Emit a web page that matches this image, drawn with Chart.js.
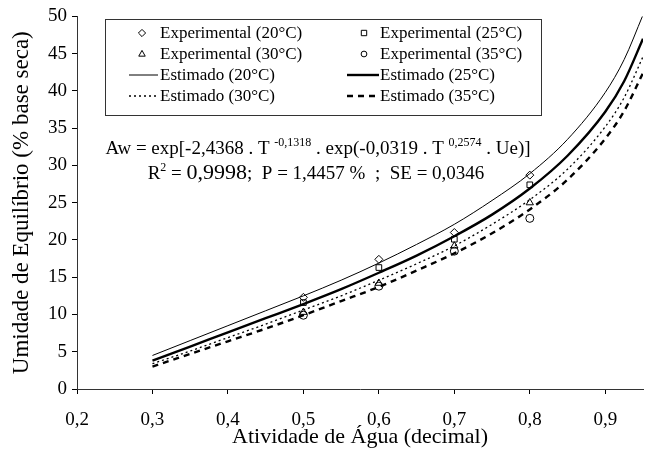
<!DOCTYPE html>
<html>
<head>
<meta charset="utf-8">
<script src="https://cdn.jsdelivr.net/npm/chart.js@4/dist/chart.umd.min.js"></script>
<style>
  html, body { margin: 0; padding: 0; background: #fff; }
  #wrap { width: 660px; height: 459px; position: relative; }
</style>
</head>
<body>
<div id="wrap"><canvas id="c" width="660" height="459"></canvas></div>
<script>
// ---- data ----
const awExp = [0.5, 0.6, 0.7, 0.8];
const exp20 = [12.3, 17.4, 21.0, 28.7];
const exp25 = [11.6, 16.3, 20.1, 27.4];
const exp30 = [10.3, 14.2, 19.2, 25.0];
const exp35 = [9.9, 13.8, 18.5, 22.9];

const awEst = [0.30, 0.35, 0.40, 0.45, 0.50, 0.55, 0.60, 0.65, 0.70, 0.75, 0.80, 0.85, 0.90, 0.925, 0.95];
const est20 = [4.5, 6.5, 8.5, 10.5, 12.5, 14.6, 16.9, 19.4, 22.1, 25.3, 28.9, 33.5, 39.8, 44.2, 50.2];
const est25 = [3.8, 5.7, 7.6, 9.5, 11.4, 13.4, 15.6, 17.9, 20.5, 23.4, 26.9, 31.3, 37.2, 41.3, 47.0];
const est30 = [3.4, 5.1, 6.9, 8.7, 10.6, 12.5, 14.6, 16.8, 19.2, 22.1, 25.4, 29.5, 35.2, 39.1, 44.6];
const est35 = [3.0, 4.7, 6.4, 8.1, 9.9, 11.8, 13.7, 15.9, 18.2, 20.9, 24.1, 28.1, 33.6, 37.3, 42.4];

const xTicks = [0.2, 0.3, 0.4, 0.5, 0.6, 0.7, 0.8, 0.9];
const yTicks = [0, 5, 10, 15, 20, 25, 30, 35, 40, 45, 50];

const labelsExp = ['Experimental (20°C)', 'Experimental (25°C)', 'Experimental (30°C)', 'Experimental (35°C)'];
const labelsEst = ['Estimado (20°C)', 'Estimado (25°C)', 'Estimado (30°C)', 'Estimado (35°C)'];

const FONT = "'Liberation Serif', 'Times New Roman', serif";

function pts(xs, ys) { return xs.map((x, i) => ({ x: x, y: ys[i] })); }

const markerStyles = ['rectRot', 'rect', 'triangle', 'circle'];
const markerRadius = [4, 4, 4.2, 4];
const expSeries = [exp20, exp25, exp30, exp35];
const estSeries = [est20, est25, est30, est35];
const lineWidths = [1, 2.4, 1.3, 2.4];
const lineDash = [[], [], [2, 3], [6, 5]];

const datasets = [];
estSeries.forEach((s, i) => {
  datasets.push({
    label: labelsEst[i],
    data: pts(awEst, s),
    showLine: true,
    borderColor: '#000',
    borderWidth: lineWidths[i],
    borderDash: lineDash[i],
    pointRadius: 0,
    cubicInterpolationMode: 'monotone',
    fill: false,
    order: 2
  });
});
expSeries.forEach((s, i) => {
  datasets.push({
    label: labelsExp[i],
    data: pts(awExp, s),
    showLine: false,
    pointStyle: markerStyles[i],
    pointRadius: markerRadius[i],
    pointBorderColor: '#000',
    pointBackgroundColor: 'rgba(255,255,255,0)',
    pointBorderWidth: 1,
    order: 1
  });
});

function drawMarker(ctx, style, x, y, r) {
  ctx.beginPath();
  if (style === 'rectRot') {
    ctx.moveTo(x, y - r); ctx.lineTo(x + r, y); ctx.lineTo(x, y + r); ctx.lineTo(x - r, y); ctx.closePath();
  } else if (style === 'rect') {
    const h = r * 0.75;
    ctx.rect(x - h, y - h, 2 * h, 2 * h);
  } else if (style === 'triangle') {
    ctx.moveTo(x, y - r); ctx.lineTo(x + r * 0.9, y + r * 0.6); ctx.lineTo(x - r * 0.9, y + r * 0.6); ctx.closePath();
  } else {
    ctx.arc(x, y, r * 0.8, 0, Math.PI * 2);
  }
  ctx.stroke();
}

const overlay = {
  id: 'overlay',
  afterDraw(chart) {
    const ctx = chart.ctx;
    ctx.save();
    // legend box
    ctx.strokeStyle = '#333';
    ctx.lineWidth = 1;
    ctx.strokeRect(105.5, 19.5, 436, 96);
    ctx.fillStyle = '#000';
    ctx.font = '17px ' + FONT;
    ctx.textBaseline = 'middle';
    ctx.textAlign = 'left';
    const rows = [33, 54, 75, 96];
    const colText = [160, 380];
    const colMarker = [142, 364];
    const colLine = [[129, 158], [347, 379]];
    for (let i = 0; i < 4; i++) {
      const row = rows[Math.floor(i / 2)];
      const col = i % 2;
      ctx.strokeStyle = '#000';
      ctx.lineWidth = 1;
      ctx.setLineDash([]);
      drawMarker(ctx, markerStyles[i], colMarker[col], row, 3.6);
      ctx.fillText(labelsExp[i], colText[col], row + 1);
    }
    for (let i = 0; i < 4; i++) {
      const row = rows[2 + Math.floor(i / 2)];
      const col = i % 2;
      ctx.strokeStyle = '#000';
      ctx.lineWidth = lineWidths[i];
      ctx.setLineDash(lineDash[i]);
      ctx.beginPath();
      ctx.moveTo(colLine[col][0], row);
      ctx.lineTo(colLine[col][1], row);
      ctx.stroke();
      ctx.setLineDash([]);
      ctx.fillText(labelsEst[i], colText[col], row + 1);
    }

    // equation text
    ctx.textBaseline = 'alphabetic';
    const big = '19px ' + FONT, sup = '12px ' + FONT, huge = '22px ' + FONT;
    function drawSegs(segs, cx, baseline) {
      let w = 0;
      segs.forEach(s => { ctx.font = s.f; w += ctx.measureText(s.t).width; });
      let x = cx - w / 2;
      segs.forEach(s => {
        ctx.font = s.f;
        ctx.fillText(s.t, x, baseline - (s.up || 0));
        x += ctx.measureText(s.t).width;
      });
    }
    drawSegs([
      { t: 'Aw = exp[-2,4368 . T ', f: big },
      { t: '-0,1318', f: sup, up: 8 },
      { t: ' . exp(-0,0319 . T ', f: big },
      { t: '0,2574', f: sup, up: 8 },
      { t: ' . Ue)]', f: big }
    ], 318, 154);
    drawSegs([
      { t: 'R', f: big },
      { t: '2', f: sup, up: 8 },
      { t: ' = ', f: big },
      { t: '0,9998', f: huge },
      { t: ';  P = 1,4457 %  ;  SE = 0,0346', f: big }
    ], 316, 179);
    ctx.restore();
  }
};

const fmt = v => (Math.round(v * 10) / 10).toFixed(1).replace('.', ',');

new Chart(document.getElementById('c'), {
  type: 'scatter',
  data: { datasets: datasets },
  options: {
    responsive: false,
    animation: false,
    devicePixelRatio: 1,
    layout: { padding: { top: 16, right: 17, left: 0, bottom: 0 } },
    plugins: { legend: { display: false }, tooltip: { enabled: false } },
    scales: {
      x: {
        type: 'linear',
        min: 0.2, max: 0.95,
        afterBuildTicks: s => { s.ticks = xTicks.map(v => ({ value: v })); },
        afterFit: s => { s.height = 70; },
        ticks: { callback: v => fmt(v), color: '#000', font: { family: FONT, size: 19 }, padding: 15, maxRotation: 0, autoSkip: false },
        grid: { display: true, drawOnChartArea: false, drawTicks: true, tickLength: 5, color: '#000' },
        border: { display: true, color: '#333', width: 1 },
        title: { display: true, text: 'Atividade de Água (decimal)', color: '#000', font: { family: FONT, size: 22 }, padding: { top: 0, bottom: 9 } }
      },
      y: {
        type: 'linear',
        min: 0, max: 50,
        afterBuildTicks: s => { s.ticks = yTicks.map(v => ({ value: v })); },
        afterFit: s => { s.width = 77; },
        ticks: { callback: v => String(v), color: '#000', font: { family: FONT, size: 19 }, padding: 5, autoSkip: false },
        grid: { display: true, drawOnChartArea: false, drawTicks: true, tickLength: 5, color: '#000' },
        border: { display: true, color: '#333', width: 1 },
        title: { display: true, text: 'Umidade de Equilíbrio (% base seca)', color: '#000', font: { family: FONT, size: 23 }, padding: { top: 8, bottom: 0 } }
      }
    }
  },
  plugins: [overlay]
});
</script>
</body>
</html>
